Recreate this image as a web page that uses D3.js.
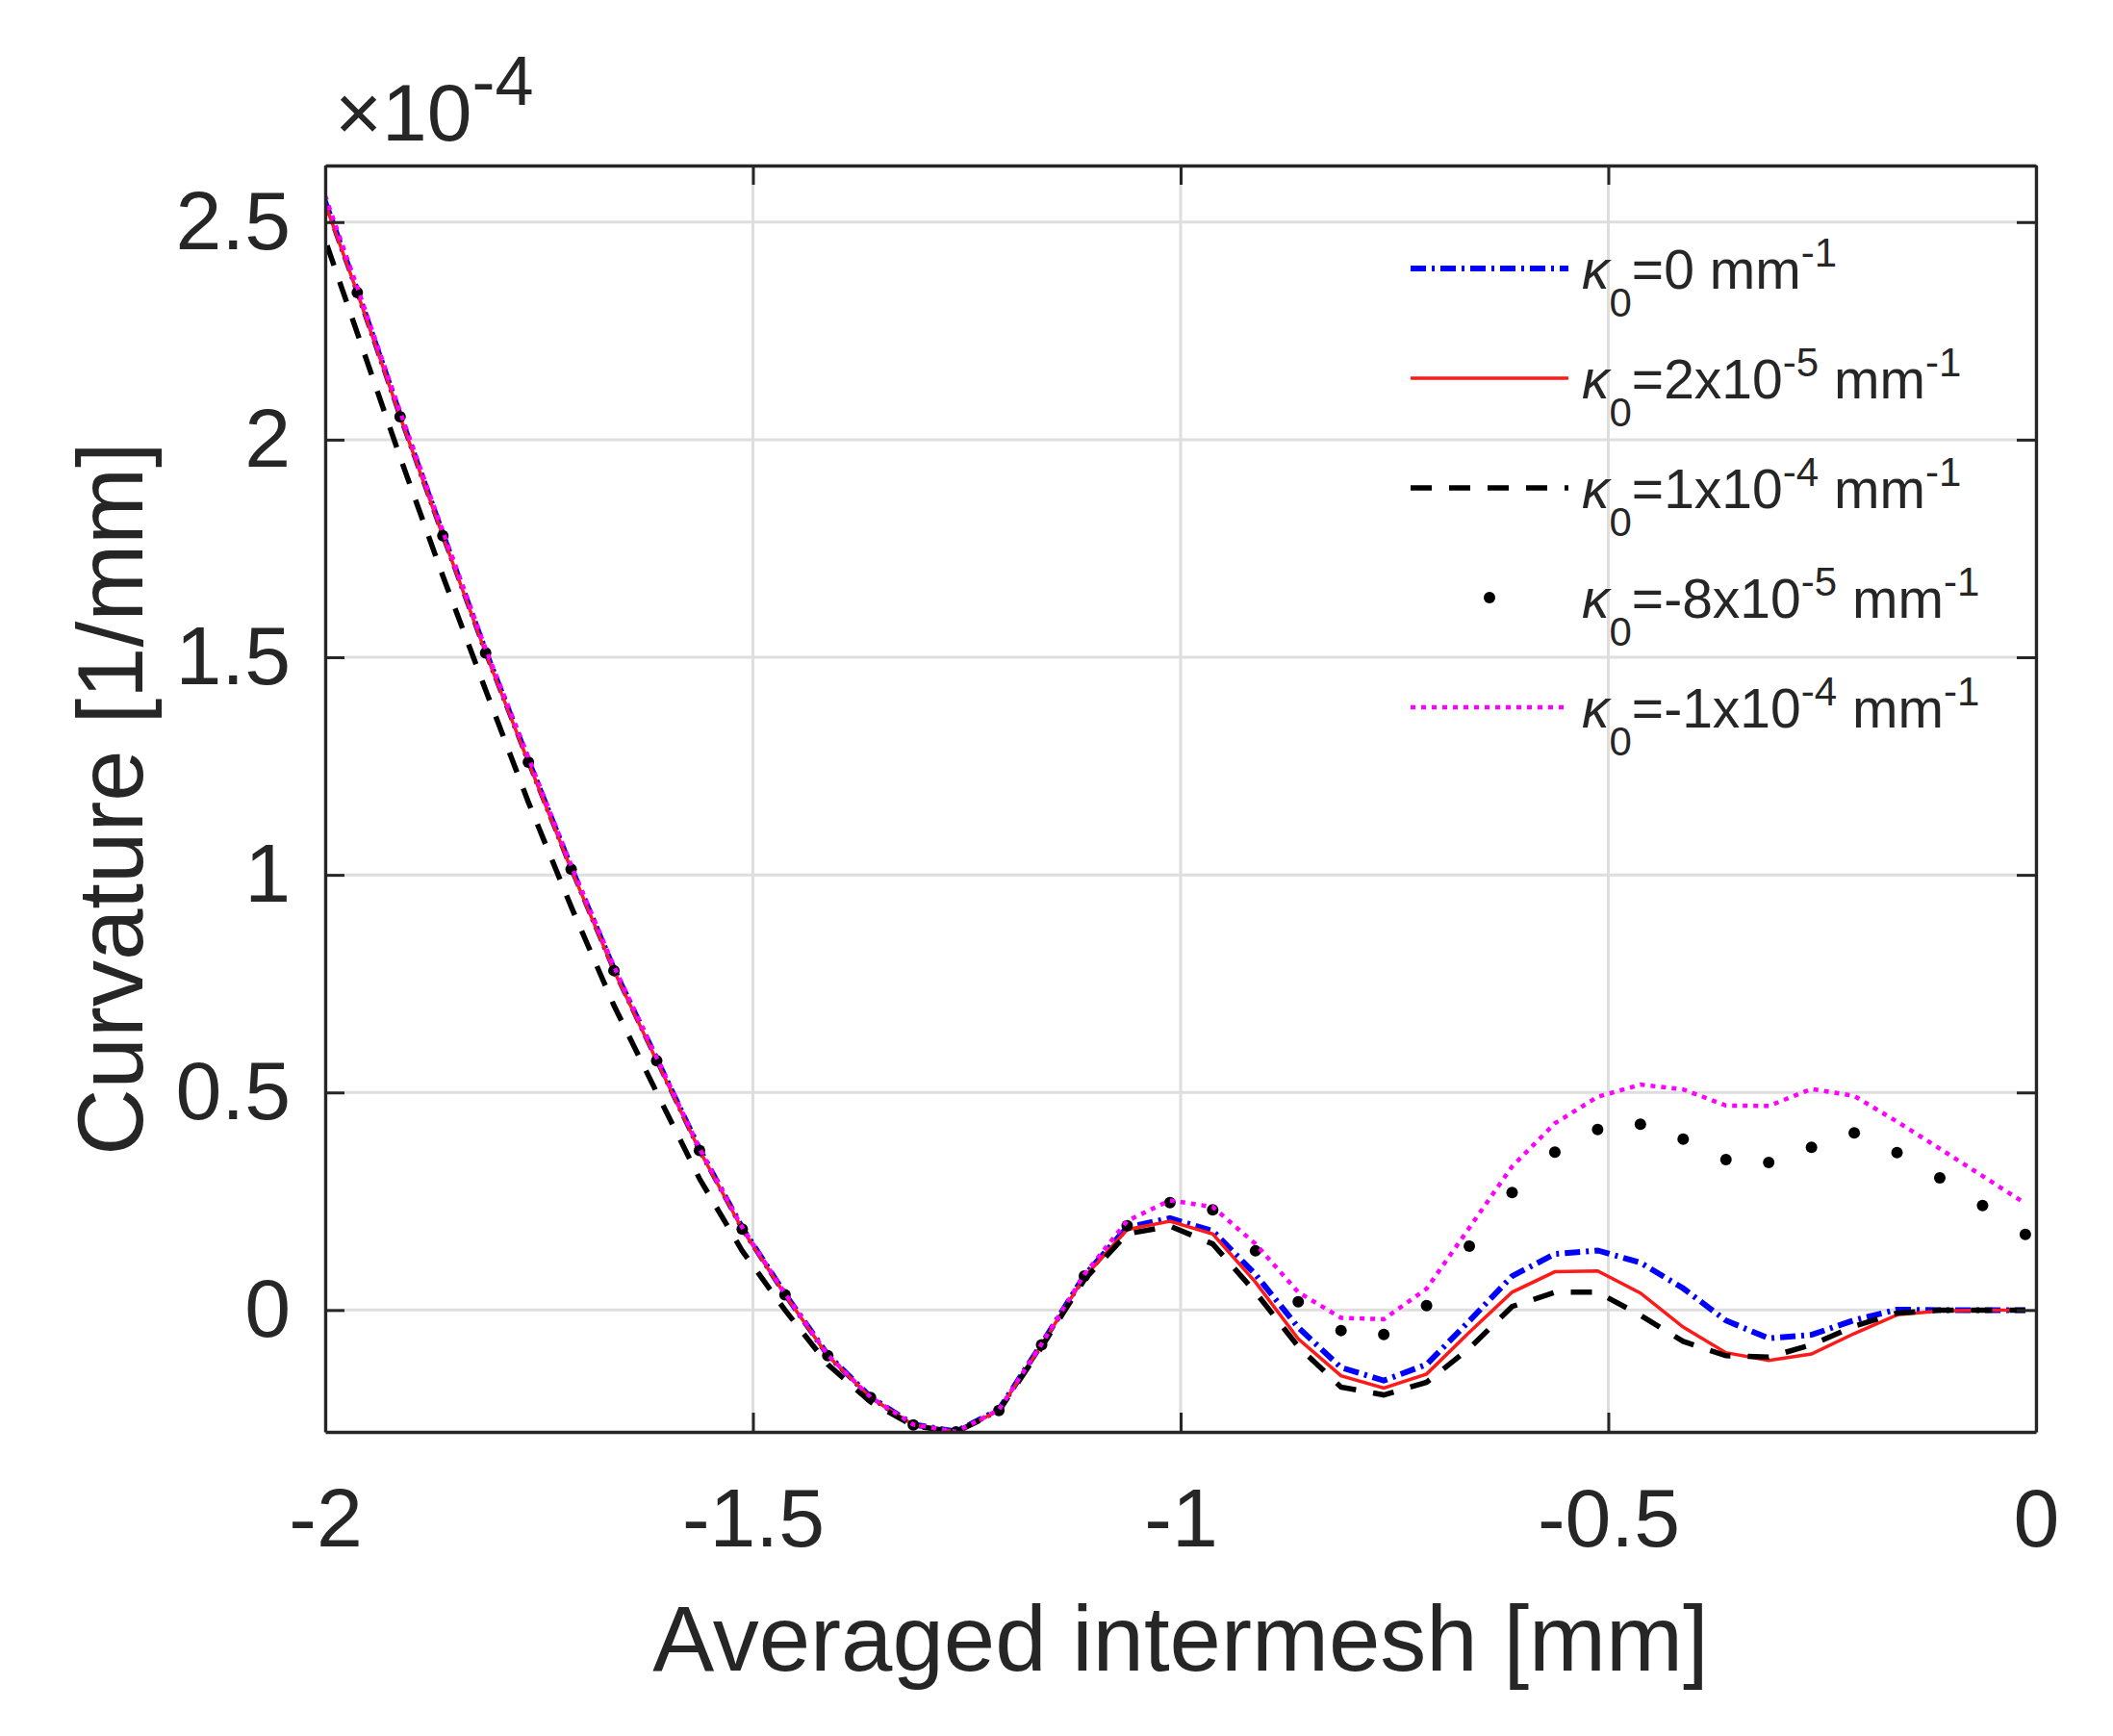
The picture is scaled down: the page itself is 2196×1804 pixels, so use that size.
<!DOCTYPE html>
<html>
<head>
<meta charset="utf-8">
<script src="https://cdn.jsdelivr.net/npm/d3@7"></script>
<style>
  body { margin: 0; background: #fff; }
  text { font-family: "Liberation Sans", Arial, Helvetica, sans-serif; fill: #262626; }
</style>
</head>
<body>
<svg id="chart"></svg>
<script>
// averaged intermesh [mm], sampled every 0.05 mm
const intermesh = [-2.0125, -1.9625, -1.9125, -1.8625, -1.8125, -1.7625, -1.7125, -1.6625, -1.6125, -1.5625,
  -1.5125, -1.4625, -1.4125, -1.3625, -1.3125, -1.2625, -1.2125, -1.1625, -1.1125, -1.0625,
  -1.0125, -0.9625, -0.9125, -0.8625, -0.8125, -0.7625, -0.7125, -0.6625, -0.6125, -0.5625,
  -0.5125, -0.4625, -0.4125, -0.3625, -0.3125, -0.2625, -0.2125, -0.1625, -0.1125, -0.0625, -0.0125];

// curvature in 1e-4 /mm
const kappaZero = [2.615, 2.342, 2.057, 1.783, 1.514, 1.263, 1.017, 0.784, 0.577, 0.370,
  0.189, 0.037, -0.103, -0.200, -0.263, -0.279, -0.229, -0.078, 0.079, 0.190,
  0.211, 0.182, 0.082, -0.040, -0.132, -0.162, -0.125, -0.025, 0.078, 0.129,
  0.137, 0.109, 0.050, -0.024, -0.065, -0.057, -0.023, 0.001, 0, 0, 0];
const kappaPos2e5 = [2.610, 2.338, 2.053, 1.779, 1.510, 1.259, 1.013, 0.780, 0.573, 0.367,
  0.186, 0.035, -0.105, -0.201, -0.264, -0.280, -0.231, -0.080, 0.076, 0.185,
  0.204, 0.175, 0.064, -0.066, -0.151, -0.179, -0.147, -0.051, 0.041, 0.088,
  0.090, 0.039, -0.039, -0.098, -0.116, -0.101, -0.054, -0.011, -0.002, 0, 0];
const kappaPos1e4 = [2.530, 2.245, 1.960, 1.687, 1.425, 1.167, 0.927, 0.700, 0.500, 0.302,
  0.136, 0.000, -0.125, -0.211, -0.266, -0.280, -0.232, -0.085, 0.070, 0.175,
  0.193, 0.152, 0.041, -0.084, -0.177, -0.195, -0.166, -0.088, 0.008, 0.041,
  0.041, -0.012, -0.072, -0.105, -0.108, -0.080, -0.037, -0.007, 0, 0, 0];
const kappaNeg8e5 = [2.615, 2.338, 2.053, 1.779, 1.510, 1.259, 1.013, 0.780, 0.573, 0.367,
  0.186, 0.035, -0.105, -0.201, -0.264, -0.280, -0.231, -0.080, 0.078, 0.194,
  0.247, 0.230, 0.136, 0.019, -0.047, -0.056, 0.010, 0.147, 0.270, 0.363,
  0.415, 0.427, 0.393, 0.346, 0.339, 0.374, 0.407, 0.362, 0.304, 0.240, 0.174];
const kappaNeg1e4 = [2.630, 2.350, 2.065, 1.790, 1.520, 1.270, 1.022, 0.790, 0.580, 0.372,
  0.190, 0.038, -0.103, -0.200, -0.263, -0.280, -0.229, -0.078, 0.082, 0.205,
  0.252, 0.237, 0.152, 0.041, -0.018, -0.021, 0.049, 0.189, 0.330, 0.429,
  0.490, 0.518, 0.507, 0.470, 0.469, 0.508, 0.492, 0.433, 0.371, 0.308, 0.245];

const xTicks = [-2, -1.5, -1, -0.5, 0];
const yTicks = [0, 0.5, 1, 1.5, 2, 2.5];

// legend text: mantissa and exponent of kappa_0
const legendMant = ["=0", "=2x10", "=1x10", "=-8x10", "=-1x10"];
const legendExp = [null, "-5", "-4", "-5", "-4"];

const W = 2196, H = 1804;
const margin = { top: 172, right: 80, bottom: 316, left: 338 };
const w = W - margin.left - margin.right, h = H - margin.top - margin.bottom;

const series = [
  { values: kappaZero, color: "#0000ff", width: 6, dash: "16,6,3,6" },
  { values: kappaPos2e5, color: "#ff1a1a", width: 3.5, dash: null },
  { values: kappaPos1e4, color: "#000000", width: 5.5, dash: "22,18" },
  { values: kappaNeg8e5, color: "#000000", marker: true },
  { values: kappaNeg1e4, color: "#ff00ff", width: 4.5, dash: "5,6" }
];

const svg = d3.select("#chart").attr("width", W).attr("height", H);
svg.append("rect").attr("width", W).attr("height", H).attr("fill", "#fff");

const x = d3.scaleLinear().domain([-2, 0]).range([0, w]);
const y = d3.scaleLinear().domain([-0.28, 2.63]).range([h, 0]);

const g = svg.append("g").attr("transform", `translate(${margin.left},${margin.top})`);

// grid
g.append("g").selectAll("line").data(xTicks).enter().append("line")
  .attr("x1", d => x(d)).attr("x2", d => x(d)).attr("y1", 0).attr("y2", h)
  .attr("stroke", "#dedede").attr("stroke-width", 3);
g.append("g").selectAll("line").data(yTicks).enter().append("line")
  .attr("y1", d => y(d)).attr("y2", d => y(d)).attr("x1", 0).attr("x2", w)
  .attr("stroke", "#dedede").attr("stroke-width", 3);

svg.append("defs").append("clipPath").attr("id", "plotclip")
  .append("rect").attr("width", w).attr("height", h);

const plot = g.append("g").attr("clip-path", "url(#plotclip)");
const line = d3.line().x((d, i) => x(intermesh[i])).y(d => y(d));

series.forEach(s => {
  if (s.marker) {
    plot.append("g").selectAll("circle").data(s.values).enter().append("circle")
      .attr("cx", (d, i) => x(intermesh[i])).attr("cy", d => y(d))
      .attr("r", 6).attr("fill", s.color);
  } else {
    plot.append("path").datum(s.values)
      .attr("d", line)
      .attr("fill", "none")
      .attr("stroke", s.color)
      .attr("stroke-width", s.width)
      .attr("stroke-dasharray", s.dash);
  }
});

// axes (box with inward ticks)
const styleAxis = (sel) => {
  sel.select(".domain").attr("stroke", "#262626").attr("stroke-width", 3.3);
  sel.selectAll(".tick line").attr("stroke", "#262626").attr("stroke-width", 3);
  sel.selectAll("text").attr("font-size", 86).attr("fill", "#262626")
    .attr("font-family", "'Liberation Sans', Arial, sans-serif");
};

g.append("g").attr("transform", `translate(0,${h})`)
  .call(d3.axisBottom(x).tickValues(xTicks).tickFormat(d => String(d))
    .tickSizeInner(-20).tickSizeOuter(0).tickPadding(58))
  .call(styleAxis);
g.append("g")
  .call(d3.axisLeft(y).tickValues(yTicks).tickFormat(d => String(d))
    .tickSizeInner(-20).tickSizeOuter(0).tickPadding(36))
  .call(styleAxis);
g.append("g")
  .call(d3.axisTop(x).tickValues(xTicks).tickFormat(() => "")
    .tickSizeInner(-20).tickSizeOuter(0))
  .call(styleAxis);
g.append("g").attr("transform", `translate(${w},0)`)
  .call(d3.axisRight(y).tickValues(yTicks).tickFormat(() => "")
    .tickSizeInner(-20).tickSizeOuter(0))
  .call(styleAxis);

// exponent label
const expo = svg.append("text").attr("x", 348).attr("y", 146).attr("font-size", 84);
expo.append("tspan").text("\u00d710");
expo.append("tspan").attr("dy", -37).attr("font-size", 72).text("-4");

// axis titles
svg.append("text")
  .attr("x", margin.left + w / 2).attr("y", 1736)
  .attr("text-anchor", "middle").attr("font-size", 96)
  .text("Averaged intermesh [mm]");
svg.append("text")
  .attr("transform", `translate(148,${margin.top + h / 2}) rotate(-90)`)
  .attr("text-anchor", "middle").attr("font-size", 96)
  .text("Curvature [1/mm]");

// legend (no box)
const legend = svg.append("g");
const rowY = (i) => 279 + i * 114;
series.forEach((s, i) => {
  const row = legend.append("g").attr("transform", `translate(0,${rowY(i)})`);
  if (s.marker) {
    row.append("circle").attr("cx", 1548).attr("cy", 0).attr("r", 6).attr("fill", s.color);
  } else {
    row.append("line").attr("x1", 1466).attr("x2", 1630).attr("y1", 0).attr("y2", 0)
      .attr("stroke", s.color).attr("stroke-width", s.width)
      .attr("stroke-dasharray", s.dash);
  }
  const t = row.append("text").attr("x", 1644).attr("y", 21).attr("font-size", 57);
  t.append("tspan").attr("font-style", "italic").text("\u03ba");
  t.append("tspan").attr("dy", 29).attr("font-size", 42).text("0");
  t.append("tspan").attr("dy", -29).text(legendMant[i]);
  let shift = 0;
  if (legendExp[i]) {
    t.append("tspan").attr("dy", -23).attr("font-size", 42).text(legendExp[i]);
    shift = 23;
  }
  t.append("tspan").attr("dy", shift).text(" mm");
  t.append("tspan").attr("dy", -23).attr("font-size", 42).text("-1");
});
</script>
</body>
</html>
